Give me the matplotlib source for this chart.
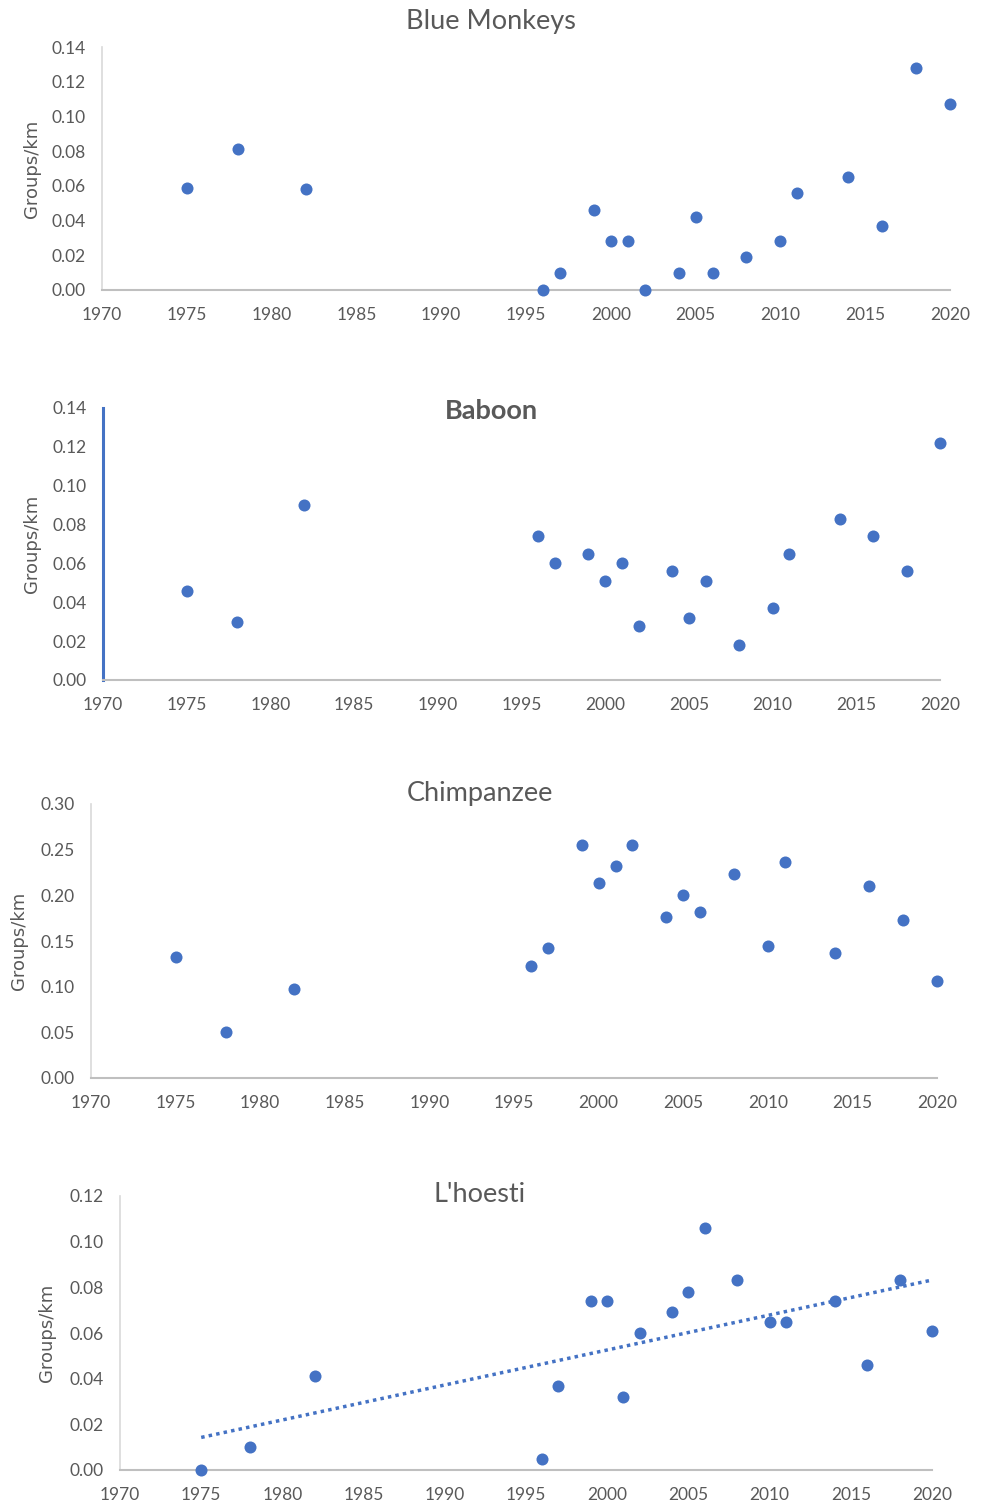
import numpy as np
import matplotlib
matplotlib.use("Agg")
import matplotlib.pyplot as plt

plt.rcParams['font.family'] = ['Lato', 'DejaVu Sans']

years = [1975, 1978, 1982, 1996, 1997, 1999, 2000, 2001, 2002, 2004,
         2005, 2006, 2008, 2010, 2011, 2014, 2016, 2018, 2020]

blue_monkeys = [0.059, 0.081, 0.058, 0.000, 0.010, 0.046, 0.028, 0.028, 0.000, 0.010,
                0.042, 0.010, 0.019, 0.028, 0.056, 0.065, 0.037, 0.128, 0.107]
baboon = [0.046, 0.030, 0.090, 0.074, 0.060, 0.065, 0.051, 0.060, 0.028, 0.056,
          0.032, 0.051, 0.018, 0.037, 0.065, 0.083, 0.074, 0.056, 0.122]
chimpanzee = [0.133, 0.050, 0.097, 0.123, 0.142, 0.255, 0.214, 0.232, 0.255, 0.176,
              0.200, 0.182, 0.223, 0.145, 0.237, 0.137, 0.210, 0.173, 0.106]
lhoesti = [0.000, 0.010, 0.041, 0.005, 0.037, 0.074, 0.074, 0.032, 0.060, 0.069,
           0.078, 0.106, 0.083, 0.065, 0.065, 0.074, 0.046, 0.083, 0.061]

titles = ["Blue Monkeys", "Baboon", "Chimpanzee", "L'hoesti"]
series = [blue_monkeys, baboon, chimpanzee, lhoesti]
y_tops = [0.14, 0.14, 0.30, 0.12]
y_steps = [0.02, 0.02, 0.05, 0.02]
x_ticks = list(range(1970, 2021, 5))

W, H = 984, 1503
fig = plt.figure(figsize=(W / 100, H / 100), dpi=100)

# pixel boxes: left, right, top, bottom
boxes = [(102, 950, 47, 290), (103, 940, 408, 680), (91, 937, 804, 1078), (120, 932, 1196, 1470)]
title_pos = [(491, 22), (491, 411), (480, 794), (480, 1194)]
ylabel_x = [41, 41, 28, 56]

blue = "#4472C4"
gray_text = "#595959"
spine_gray = "#BFBFBF"

for i, (t, vals) in enumerate(zip(titles, series)):
    l, r, tp, b = boxes[i]
    ax = fig.add_axes([l / W, 1 - b / H, (r - l) / W, (b - tp) / H])
    ax.scatter(years, vals, s=75, color=blue, zorder=3, clip_on=False, linewidths=0)
    ax.set_xlim(1970, 2020)
    ax.set_ylim(0, y_tops[i])
    ax.set_xticks(x_ticks)
    yt = np.round(np.arange(0, y_tops[i] + 1e-9, y_steps[i]), 2)
    ax.set_yticks(yt)
    ax.set_yticklabels([f"{v:.2f}" for v in yt])
    ax.tick_params(length=0, labelsize=12.5, colors=gray_text)
    ax.tick_params(axis='y', pad=12)
    ax.tick_params(axis='x', pad=12)
    for s in ["top", "right"]:
        ax.spines[s].set_visible(False)
    ax.spines["bottom"].set_color(spine_gray)
    ax.spines["bottom"].set_linewidth(1.5)
    if t == "Baboon":
        ax.spines["left"].set_color(blue)
        ax.spines["left"].set_linewidth(2.2)
    else:
        ax.spines["left"].set_color("#D9D9D9")
        ax.spines["left"].set_linewidth(1.2)
    ax.set_ylabel("Groups/km", fontsize=13, color=gray_text, family=['DejaVu Sans'])
    ax.yaxis.set_label_coords((ylabel_x[i] - l) / (r - l), 0.5)
    tx, ty = title_pos[i]
    fig.text(tx / W, 1 - ty / H, t, ha='center', va='center', fontsize=19.5,
             color=gray_text, fontweight='bold' if t == "Baboon" else 'normal')
    if t == "L'hoesti":
        coef = np.polyfit(years, vals, 1)
        xs = np.array([min(years), max(years)])
        ax.plot(xs, np.polyval(coef, xs), linestyle=(0, (1, 1.2)), color=blue,
                linewidth=2.5, zorder=2)

fig.savefig("out.png", dpi=100)
